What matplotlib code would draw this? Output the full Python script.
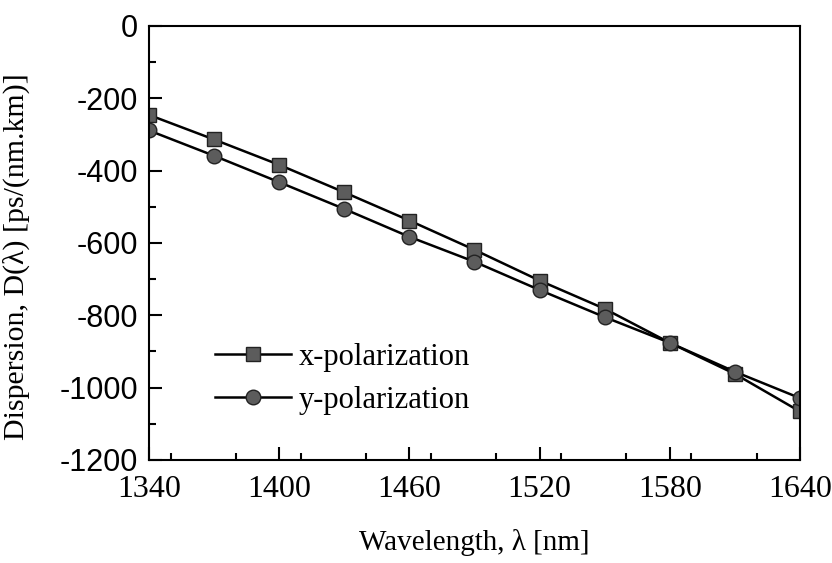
import matplotlib
matplotlib.use("Agg")
import matplotlib.pyplot as plt
from matplotlib.ticker import MultipleLocator

plt.rcParams["axes.unicode_minus"] = False

# Wavelength sampling (nm)
wavelength = [1340, 1370, 1400, 1430, 1460, 1490, 1520, 1550, 1580, 1610, 1640]
# Chromatic dispersion, ps/(nm.km)
disp_x = [-246, -314, -384, -460, -538, -619, -704, -782, -876, -962, -1066]
disp_y = [-289, -359, -432, -506, -583, -652, -730, -805, -876, -956, -1029]

x_ticks = [1340, 1400, 1460, 1520, 1580, 1640]
y_ticks = [0, -200, -400, -600, -800, -1000, -1200]

serif = ["Liberation Serif", "DejaVu Serif"]
sans = ["Liberation Sans Narrow", "Liberation Sans", "DejaVu Sans"]

fig = plt.figure(figsize=(8.32, 5.63), dpi=100)
ax = fig.add_axes([0.179, 0.183, 0.7825, 0.771])

ax.plot(wavelength, disp_x, color="black", lw=1.8, marker="s", ms=10,
        mfc="#5c5c5c", mec="#222222", mew=1.0, label="x-polarization")
ax.plot(wavelength, disp_y, color="black", lw=1.8, marker="o", ms=10.5,
        mfc="#5c5c5c", mec="#222222", mew=1.0, label="y-polarization")

ax.set_xlim(1340, 1640)
ax.set_ylim(-1200, 0)
ax.set_xticks(x_ticks)
ax.set_yticks(y_ticks)
ax.xaxis.set_minor_locator(MultipleLocator(30))
ax.yaxis.set_minor_locator(MultipleLocator(100))

ax.tick_params(which="both", direction="in", width=1.5, top=False, right=False)
ax.tick_params(which="major", length=9.5)
ax.tick_params(which="minor", length=5)
ax.tick_params(axis="x", pad=11)
ax.tick_params(axis="y", pad=8)

for lab in ax.get_xticklabels():
    lab.set_fontfamily(serif)
    lab.set_fontsize(23)
for lab in ax.get_yticklabels():
    lab.set_fontfamily(sans)
    lab.set_fontsize(22)

for sp in ax.spines.values():
    sp.set_linewidth(1.5)

ax.set_xlabel("Wavelength, λ [nm]", fontfamily=serif, fontsize=21, labelpad=18)
ax.set_ylabel("Dispersion, D(λ) [ps/(nm.km)]", fontfamily=serif, fontsize=21.5)
ax.yaxis.set_label_coords(-0.183, 0.468)

ax.legend(loc="center left", bbox_to_anchor=(0.101, 0.187), frameon=False,
          prop={"family": serif, "size": 22}, handlelength=2.5,
          handletextpad=0.25, labelspacing=0.45, borderpad=0, borderaxespad=0)

fig.savefig("out.png", dpi=100, facecolor="white")
